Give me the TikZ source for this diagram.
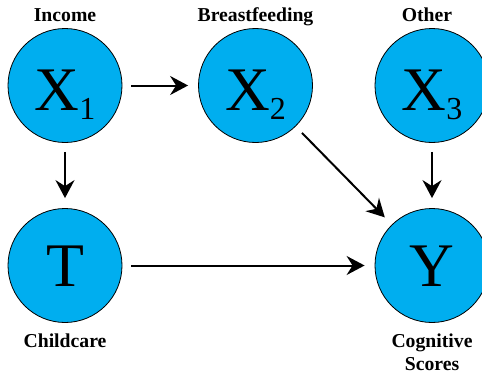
\documentclass[tikz,border=0pt]{standalone}
\usepackage{fontspec}
\setmainfont{Liberation Serif}
\usetikzlibrary{arrows.meta,positioning}
\definecolor{dagFill}{HTML}{00AEEF}
\definecolor{dagDark}{HTML}{000000}
\newcommand{\xvar}[1]{\raisebox{-4.5pt}{X\raisebox{-9pt}{\fontsize{32}{32}\selectfont #1}}}

\begin{document}
\begin{tikzpicture}[
      var/.style={circle, draw=dagDark, line width=0.8pt, fill=dagFill, minimum size=114pt,
        inner sep=0pt, text height=41pt, text depth=0pt, font=\fontsize{62}{62}\selectfont},
      tag/.style={font=\fontsize{19.7}{23}\selectfont\bfseries, inner sep=0pt, align=center},
      arr/.style={-{Stealth[length=18pt,width=19pt,inset=6pt]}, line width=2pt,
        shorten <=9pt, shorten >=10pt}]
    \useasboundingbox (0,0) rectangle (482pt,376pt);
    \node[var] (x1) at (65pt,290.5pt) {\xvar{1}};
    \node[var, on grid, right=190.5pt of x1] (x2) {\xvar{2}};
    \node[var, on grid, right=176.5pt of x2] (x3) {\xvar{3}};
    \node[var, on grid, below=180pt of x1] (t) {T};
    \node[var, on grid, below=180pt of x3] (y) {Y};
    \node[tag, above=6.5pt of x1, anchor=base] (inc) {Income};
    \node[tag, above=6.5pt of x2, anchor=base] (bf) {Breastfeeding};
    \node[tag, above=6.5pt of x3, anchor=base, xshift=-5pt] (oth) {Other};
    \node[tag, below=11pt of t] (care) {Childcare};
    \node[tag, below=11pt of y] (cog) {Cognitive\\Scores};
    \draw[arr] (x1) -- (x2);
    \draw[arr] (x1) -- (t);
    \draw[arr] (x2) -- (y);
    \draw[arr] (x3) -- (y);
    \draw[arr] (t) -- (y);
  \end{tikzpicture}
\end{document}
